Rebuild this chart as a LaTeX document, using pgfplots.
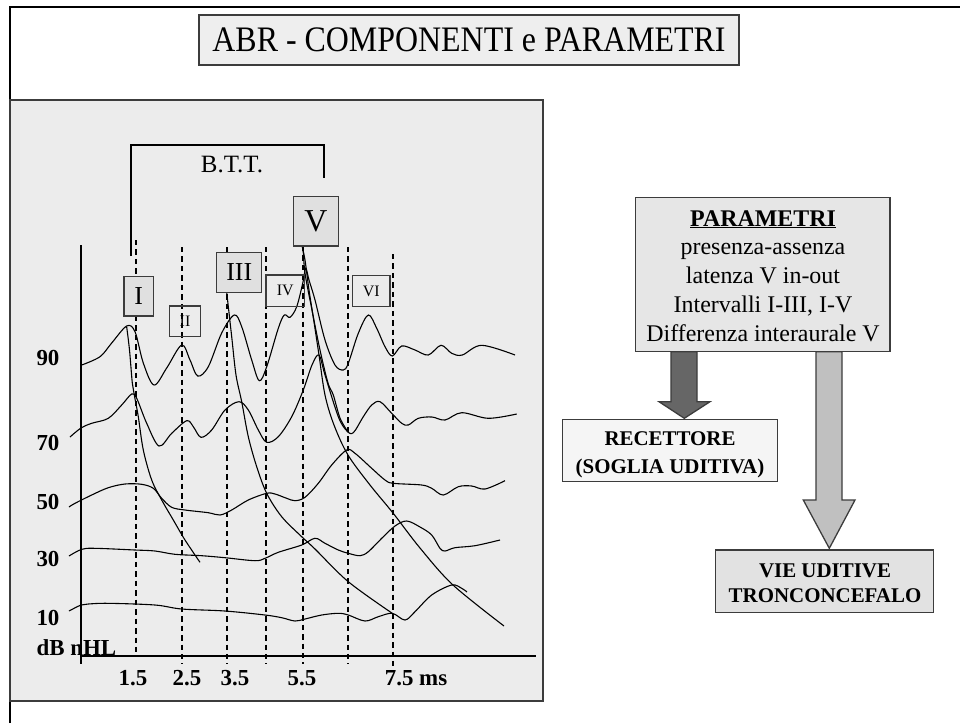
\documentclass[border=0pt]{standalone}
\usepackage{fontspec}
\setmainfont{Liberation Serif}
\usepackage{pgfplots}
\pgfplotsset{compat=1.18}
\definecolor{panel}{RGB}{236,236,236}
\definecolor{boxg}{RGB}{224,224,224}
\definecolor{titleg}{RGB}{238,238,238}
\definecolor{parg}{RGB}{230,230,230}
\definecolor{darkarr}{RGB}{102,102,102}
\definecolor{lightarr}{RGB}{192,192,192}
\definecolor{recg}{RGB}{245,245,245}
\definecolor{vieg}{RGB}{226,226,226}
\definecolor{bord}{RGB}{60,60,60}
\newcommand{\fs}[1]{\fontsize{#1}{#1}\selectfont}
\begin{document}
\begin{tikzpicture}
\begin{axis}[name=ax, scale only axis, width=960bp, height=723bp,
  xmin=0, xmax=960, ymin=0, ymax=723, y dir=reverse, hide axis, clip=false]
% outer frame
\draw[line width=1.4pt, black] (10,723) -- (10,7) -- (960,7);
% title
\draw[line width=1.3pt, bord, fill=titleg] (199,15) rectangle (739,65);
\node at (469,40) {\scalebox{0.89}[1]{\fs{36}ABR - COMPONENTI e PARAMETRI}};
% panel
\draw[line width=1.3pt, bord, fill=panel] (10,100) rectangle (543,701);
% axes lines
\draw[line width=1.1pt] (81,245) -- (81,664);
\draw[line width=1.1pt] (81,656) -- (536,656);
% dashed lines
\begin{scope}[dash pattern=on 5.5pt off 4pt, line width=1.1pt]
\draw (136,240) -- (136,656);
\draw (182,247) -- (182,664);
\draw (227,247) -- (227,664);
\draw (266,247) -- (266,664);
\draw (303,246) -- (303,664);
\draw (348,247) -- (348,664);
\draw (393,254) -- (393,668);
\end{scope}
% B.T.T. bracket
\draw[line width=1.1pt] (131,256) -- (131,145) -- (324,145) -- (324,178);
\node at (232,165) {\fs{25}B.T.T.};
% traces
\pgfplotsset{wave/.style={black, line width=1.1pt, smooth, tension=0.55}}
% 90 dB
\addplot[wave] coordinates {(81.7,365) (100,356.7) (111.7,343) (126.7,326) (135,331.7) (143.3,363) (154,385) (166.7,368) (181.7,345) (190,360) (197.7,376) (208.3,366.7) (221.7,333) (234.3,315) (241.7,326.7) (251.7,360) (259.3,380.7) (266.7,366.7) (278.3,328.3) (284.3,315) (290,317.3) (296.7,306.7) (303,282) (305.7,268.3) (309,280) (315,300) (325,340) (335,365) (343.3,370) (348.3,363.3) (358.3,333.3) (368.3,315) (376.7,328.3) (385,346.7) (392.3,356) (401.7,346) (415,350) (428.3,355) (441,345.3) (451.7,353.3) (462.3,355) (481.7,345.3) (515,355)};
% 70 dB
\addplot[wave] coordinates {(70,437) (81,428) (91.7,423.3) (108.3,418.3) (121.7,405) (131.7,394) (136.7,398.3) (146.7,423.3) (159,446) (171.7,433.3) (186.7,420.7) (193.3,426.7) (201,437.3) (211.7,430) (225,410) (239,401.7) (248.3,410) (258.3,430) (266.7,442.3) (278.3,436.7) (291.7,416.7) (303.3,390) (312,365) (319,355) (325,375) (338.3,416.7) (346.7,430.7) (353.3,432.7) (363.3,416.7) (371.7,405) (380,401.7) (391.7,413.3) (401.7,423.3) (408.3,425) (418.3,418.3) (432,417) (445,420) (461.7,412.7) (488.3,418.3) (516.7,414)};
% 50 dB
\addplot[wave] coordinates {(69,507) (75,503.3) (91.7,495) (108.3,487.7) (125,484) (141.7,484.3) (153.3,488.3) (161.7,498.3) (171.7,507.3) (185,510) (208.3,512.7) (220,515) (231.7,510) (248.3,500) (266.7,493.3) (275,494) (286.7,498.3) (295,500.7) (305,497.3) (318.3,483.3) (331.7,465) (346.7,450) (355,453.3) (371.7,468.3) (385,480) (393.3,483.3) (421.7,485) (431.7,488.3) (443.3,495) (458.3,486.7) (471.7,486) (485,489) (505,480.7)};
% 30 dB
\addplot[wave] coordinates {(69,556) (81.7,549.3) (95,548.3) (135,550) (155,551) (175,554.3) (201.7,555.7) (225,557.7) (255,560.7) (265,558.3) (278.3,552.3) (301.7,545) (315,538.3) (325,543.3) (338.3,550) (348.3,553.3) (360,555.7) (368.3,551.7) (381.7,538.3) (395,526) (406.7,521) (420,527) (431.7,535) (440,548.3) (445,551) (455,547.7) (475,545.7) (500,540)};
% 10 dB
\addplot[wave] coordinates {(69,611) (81,605) (88.3,604) (108.3,603.3) (155,605) (181.7,609) (225,611) (265,615) (281.7,617.7) (295,621) (305,619) (321.7,615) (338.3,613.3) (348.3,615) (365,621) (378.3,616.7) (392.3,613.3) (405,620) (415,611.7) (431.7,595) (451.7,585) (461.7,588.3) (467,592)};
% latency lines
\addplot[wave] coordinates {(126.7,327) (129.5,350) (132.3,383) (134.3,395) (138.3,416.7) (143.3,450) (151.7,480) (161.7,500) (173.3,520) (185,540) (200,562.3)};
\addplot[wave] coordinates {(226.7,292.3) (231.7,336.7) (236,375) (241.7,401.7) (248.3,436.7) (256.7,466.7) (266.7,493.3) (281.7,516.7) (301.7,536.7) (315,549) (348.3,581.7) (392.3,613.3)};
\addplot[wave] coordinates {(302,246) (305,260) (309,290) (314,322) (319,355) (325,395) (334,425) (348,455) (370,485) (393,513) (420,548) (453,585) (504,626)};
\addplot[wave] coordinates {(303,246) (305,273) (312,310) (320,350) (328,383) (333.3,395) (340,418) (348,432)};
% component boxes
\draw[line width=1.2pt, bord, fill=boxg] (124,276.7) rectangle (153.3,316);
\node at (138.7,296.3) {\fs{26}I};
\draw[line width=1.2pt, bord] (169.3,306) rectangle (200.7,336.7);
\node at (185,321.3) {\fs{16}II};
\draw[line width=1.2pt, bord, fill=boxg] (216.7,252.3) rectangle (261.7,292.3);
\node at (239.2,272.3) {\fs{26}III};
\draw[line width=1.2pt, bord] (266,275) rectangle (304.3,306.3);
\node at (285.2,290.7) {\fs{16}IV};
\draw[line width=1.2pt, bord, fill=boxg] (293.6,196.7) rectangle (338.2,246);
\node at (315.9,221.3) {\fs{32}V};
\draw[line width=1.2pt, bord] (352.7,275.7) rectangle (390,306.3);
\node at (371.3,291) {\fs{16}VI};
% axis labels
\begin{scope}[font=\fs{23}\bfseries]
\node[anchor=west] at (33,358) {90};
\node[anchor=west] at (33,443) {70};
\node[anchor=west] at (33,502) {50};
\node[anchor=west] at (33,559) {30};
\node[anchor=west] at (33,618) {10};
\node[anchor=west] at (33,648) {dB nHL};
\node at (133,678) {1.5};
\node at (187,678) {2.5};
\node at (235,678) {3.5};
\node at (302,678) {5.5};
\node at (416,678) {7.5 ms};
\end{scope}
% right panel
\draw[line width=1.3pt, bord, fill=darkarr] (671,351.7) -- (697,351.7) -- (697,401.7) -- (710,401.7) -- (684.3,418.3) -- (659,401.7) -- (671,401.7) -- cycle;
\draw[line width=1.3pt, bord, fill=lightarr] (816,351.7) -- (842,351.7) -- (842,500) -- (855,500) -- (829.3,548.3) -- (803.3,500) -- (816,500) -- cycle;
\draw[line width=1.3pt, bord, fill=parg] (635.7,197.3) rectangle (890,351.7);
\node[anchor=base] at (763,226) {\fs{24}\bfseries\underline{PARAMETRI}};
\node[anchor=base] at (763,254) {\fs{24}presenza-assenza};
\node[anchor=base] at (763,283) {\fs{24}latenza V in-out};
\node[anchor=base] at (763,312) {\fs{24}Intervalli I-III, I-V};
\node[anchor=base] at (763,341) {\fs{24}Differenza interaurale V};
\draw[line width=1.3pt, bord, fill=recg] (562.3,419.3) rectangle (777.7,481.7);
\node[anchor=base] at (670,445.5) {\fs{21}\bfseries RECETTORE};
\node[anchor=base] at (670,473.5) {\fs{21}\bfseries (SOGLIA UDITIVA)};
\draw[line width=1.3pt, bord, fill=vieg] (715.7,550) rectangle (933.3,612.3);
\node[anchor=base] at (825,577.5) {\fs{21}\bfseries VIE UDITIVE};
\node[anchor=base] at (825,602.5) {\fs{21}\bfseries TRONCONCEFALO};
\end{axis}
\pgfresetboundingbox
\path[use as bounding box] (ax.south west) rectangle (ax.north east);
\end{tikzpicture}
\end{document}
